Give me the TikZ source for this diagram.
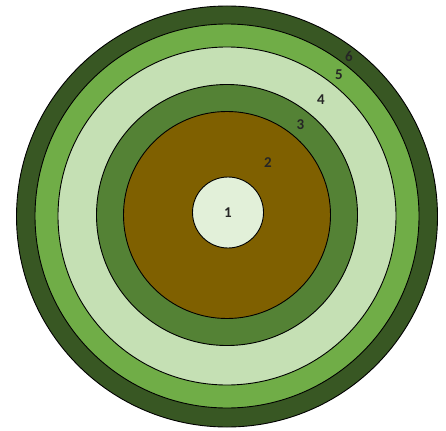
\documentclass[tikz,border=0pt]{standalone}
\usepackage{fontspec}
\setmainfont{Carlito}
\usetikzlibrary{positioning}
\definecolor{ringF}{RGB}{56,87,35}
\definecolor{ringE}{RGB}{112,173,71}
\definecolor{ringD}{RGB}{197,224,180}
\definecolor{ringC}{RGB}{84,130,53}
\definecolor{ringB}{RGB}{127,96,0}
\definecolor{ringA}{RGB}{226,240,217}
\tikzset{
  ringline/.style={circle,draw=black,line width=0.9pt,inner sep=0pt},
  numfont/.style={font=\bfseries\fontsize{15}{15}\selectfont,text=black!85},
}
\newcommand{\lring}[5]{%
  \node[ringline,fill=#5,minimum size={2*#4}] (#1) at (#2,#3) {};}
\newcommand{\lnum}[4]{\node[numfont] (#1) at (#2,#3) {#4};}

\begin{document}
\begin{tikzpicture}[x=1pt,y=-1pt]
    \useasboundingbox (0,0) rectangle (446,430);
    \lring{six}{227}{216.5}{210.5pt}{ringF}
    \lring{five}{227}{216}{192pt}{ringE}
    \lring{four}{227}{216}{169pt}{ringD}
    \lring{three}{227}{215}{130.5pt}{ringC}
    \lring{two}{227}{215}{103.5pt}{ringB}
    \lring{one}{228}{212.5}{35.5pt}{ringA}
    \lnum{lsix}{349}{56}{6}\lnum{lfive}{339}{75}{5}
    \lnum{lfour}{321}{100}{4}\lnum{lthree}{300.5}{125}{3}
    \lnum{ltwo}{268}{163}{2}\lnum{lone}{228}{213}{1}
  \end{tikzpicture}
\end{document}
